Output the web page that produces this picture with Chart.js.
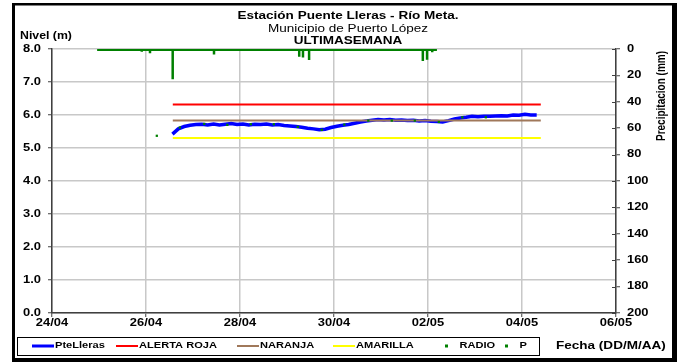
<!DOCTYPE html>
<html>
<head>
<meta charset="utf-8">
<title>Estación Puente Lleras - Río Meta</title>
<script src="https://cdn.jsdelivr.net/npm/chart.js@4.4.0/dist/chart.umd.min.js"></script>
<style>
  html, body { margin: 0; padding: 0; background: #fff; }
  #wrap { position: relative; width: 677px; height: 362px; }
</style>
</head>
<body>
<div id="wrap"><canvas id="chart" width="677" height="362"></canvas></div>
<script>
// ── Data (x = days since 24/04 00:00) ─────────────────────────────
var xTickLabels = ['24/04', '26/04', '28/04', '30/04', '02/05', '04/05', '06/05'];

// PteLleras level (m), one reading every 3 hours from 26/04 13:30
var nivelStart = 2.5625;
var nivelStep = 0.125;
var nivelValues = [
  5.42, 5.58, 5.65, 5.69, 5.71, 5.72, 5.70, 5.73, 5.70, 5.72,
  5.74, 5.71, 5.73, 5.70, 5.72, 5.71, 5.73, 5.70, 5.71, 5.68,
  5.67, 5.65, 5.63, 5.60, 5.58, 5.55, 5.57, 5.62, 5.66, 5.69,
  5.71, 5.75, 5.79, 5.82, 5.84, 5.86, 5.85, 5.86, 5.84, 5.85,
  5.83, 5.84, 5.82, 5.83, 5.81, 5.80, 5.79, 5.83, 5.88, 5.91,
  5.93, 5.96, 5.95, 5.96, 5.96, 5.97, 5.98, 5.97, 6.00, 5.99,
  6.02, 6.00, 6.00
];

// RADIO readings (m)
var radioDays = [2.23, 2.72, 3.24, 3.73, 4.23, 4.72, 5.23, 5.74, 6.22, 6.73, 7.23, 7.72, 8.23, 8.73, 9.23];
var radioValues = [5.37, 5.62, 5.73, 5.70, 5.72, 5.72, 5.64, 5.55, 5.71, 5.83, 5.83, 5.83, 5.79, 5.93, 5.93];

// Alert thresholds (m)
var alertaStart = 2.57;
var alertaEnd = 10.40;
var alertaRoja = 6.32;
var naranja = 5.83;
var amarilla = 5.30;

// Precipitation P (mm): dry baseline plus the rain events
var pStart = 0.96;
var pEnd = 8.19;
var pBase = 0.6;
var pDays = [1.91, 2.085, 2.568, 3.447, 4.70, 5.26, 5.34, 5.47, 6.40, 7.89, 7.98, 8.09];
var pValues = [2.0, 3.3, 23.0, 4.1, 1.5, 5.8, 6.4, 8.3, 1.5, 9.1, 8.1, 2.5];

// ── Styling helpers ───────────────────────────────────────────────
var FONT = '"Liberation Sans", Arial, sans-serif';
var SX = 1.23;          // reference text is horizontally stretched
var AXIS = '#404040';
var GRID = '#c8c8c8';

/** Draw text stretched horizontally, vertically centred on y */
function sText(ctx, txt, x, y, font, align) {
  ctx.save();
  ctx.font = font;
  ctx.fillStyle = '#000';
  ctx.textBaseline = 'middle';
  ctx.textAlign = 'left';
  var w = ctx.measureText(txt).width * SX;
  var left = align === 'center' ? x - w / 2 : (align === 'right' ? x - w : x);
  ctx.translate(left, y);
  ctx.scale(SX, 1);
  ctx.fillText(txt, 0, 0);
  ctx.restore();
}

// ── Build datasets from the arrays ────────────────────────────────
var nivelData = nivelValues.map(function (v, i) { return { x: nivelStart + i * nivelStep, y: v }; });
var radioData = radioDays.map(function (d, i) { return { x: d, y: radioValues[i] }; });
function umbral(v) { return [{ x: alertaStart, y: v }, { x: alertaEnd, y: v }]; }

var pData = [{ x: pStart, y: pBase }];
pDays.forEach(function (d, i) {
  pData.push({ x: d, y: pBase }, { x: d, y: pValues[i] }, { x: d, y: pBase });
});
pData.push({ x: pEnd, y: pBase });

var series = [
  { label: 'PteLleras', data: nivelData, borderColor: '#0000ff', borderWidth: 3.5, order: 6 },
  { label: 'ALERTA ROJA', data: umbral(alertaRoja), borderColor: '#ff0000', borderWidth: 2, order: 5 },
  { label: 'NARANJA', data: umbral(naranja), borderColor: '#a0785a', borderWidth: 2, order: 4 },
  { label: 'AMARILLA', data: umbral(amarilla), borderColor: '#ffff00', borderWidth: 2, order: 3 },
  { label: 'RADIO', data: radioData, showLine: false, pointStyle: 'rect', pointRadius: 1.6,
    backgroundColor: '#008000', borderColor: '#008000', borderWidth: 0, order: 2 },
  { label: 'P', data: pData, borderColor: '#008000', borderWidth: 2.5, yAxisID: 'y2', order: 1 }
];
series.forEach(function (s) {
  if (s.pointRadius === undefined) s.pointRadius = 0;
  if (!s.yAxisID) s.yAxisID = 'y';
  s.tension = 0;
  s.fill = false;
});

// Legend layout (marker start x) and kind
var legendItems = [
  { i: 0, x: 32, kind: 'line' },
  { i: 1, x: 116, kind: 'line' },
  { i: 2, x: 237, kind: 'line' },
  { i: 3, x: 333, kind: 'line' },
  { i: 4, x: 440, kind: 'dot' },
  { i: 5, x: 500, kind: 'dot' }
];

/** Titles, tick labels, legend and frame drawn on top of the chart */
var decor = {
  id: 'decor',
  beforeDraw: function (chart) {
    var ctx = chart.ctx;
    ctx.save();
    ctx.fillStyle = '#fff';
    ctx.fillRect(0, 0, chart.width, chart.height);
    ctx.restore();
  },
  afterDraw: function (chart) {
    var ctx = chart.ctx;
    var sx = chart.scales.x, sy = chart.scales.y, sy2 = chart.scales.y2;
    var tickFont = 'bold 10.5px ' + FONT;

    // Titles
    sText(ctx, 'Estación Puente Lleras - Río Meta.', 348, 16, 'bold 11px ' + FONT, 'center');
    sText(ctx, 'Municipio de Puerto López', 348, 28.5, '11px ' + FONT, 'center');
    sText(ctx, 'ULTIMASEMANA', 348, 40.5, 'bold 11px ' + FONT, 'center');
    sText(ctx, 'Nivel (m)', 20, 36, 'bold 10px ' + FONT, 'left');

    // Tick labels via the scales
    sx.ticks.forEach(function (t) {
      sText(ctx, xTickLabels[Math.round(t.value / 2)], sx.getPixelForValue(t.value), 323, tickFont, 'center');
    });
    sy.ticks.forEach(function (t) {
      sText(ctx, t.value.toFixed(1), 41, sy.getPixelForValue(t.value), tickFont, 'right');
    });
    sy2.ticks.forEach(function (t) {
      var py = sy2.getPixelForValue(t.value);
      sText(ctx, String(t.value), 627, py, tickFont, 'left');
      ctx.save();
      ctx.strokeStyle = AXIS;
      ctx.lineWidth = 1;
      ctx.beginPath();
      ctx.moveTo(sy2.left - 4, Math.round(py) + 0.5);
      ctx.lineTo(sy2.left, Math.round(py) + 0.5);
      ctx.stroke();
      ctx.restore();
    });

    // Right axis title
    ctx.save();
    ctx.translate(662, 96);
    ctx.rotate(-Math.PI / 2);
    ctx.scale(1, SX);
    ctx.font = 'bold 10px ' + FONT;
    ctx.fillStyle = '#000';
    ctx.textAlign = 'center';
    ctx.textBaseline = 'middle';
    ctx.fillText('Precipitacion (mm)', 0, 0);
    ctx.restore();

    // X axis title
    sText(ctx, 'Fecha (DD/M/AA)', 556, 346, 'bold 11px ' + FONT, 'left');

    // Legend
    ctx.save();
    ctx.strokeStyle = '#000';
    ctx.lineWidth = 1;
    ctx.strokeRect(17.5, 337.5, 522, 18);
    ctx.restore();
    legendItems.forEach(function (it) {
      var ds = chart.data.datasets[it.i];
      var ly = 346;
      ctx.save();
      if (it.kind === 'line') {
        ctx.strokeStyle = ds.borderColor;
        ctx.lineWidth = Math.min(ds.borderWidth, 3);
        ctx.beginPath();
        ctx.moveTo(it.x, ly);
        ctx.lineTo(it.x + 22, ly);
        ctx.stroke();
        ctx.restore();
        sText(ctx, ds.label, it.x + 23, ly, 'bold 9px ' + FONT, 'left');
      } else {
        ctx.fillStyle = '#008000';
        ctx.fillRect(it.x + 5, ly - 1.5, 3, 3);
        ctx.restore();
        sText(ctx, ds.label, it.x + 19.5, ly, 'bold 9px ' + FONT, 'left');
      }
    });

    // Outer frame
    ctx.save();
    ctx.fillStyle = '#000';
    ctx.fillRect(12, 3, 3, 359);
    ctx.fillRect(12, 3, 665, 2.5);
    ctx.fillRect(672, 3, 5, 359);
    ctx.fillRect(12, 358, 665, 4);
    ctx.restore();
  }
};

function axisGrid(extra) {
  var g = { color: GRID, lineWidth: 1.5, tickColor: AXIS, tickLength: 4, tickWidth: 1 };
  for (var k in extra) g[k] = extra[k];
  return g;
}

new Chart(document.getElementById('chart'), {
  type: 'line',
  data: { datasets: series },
  options: {
    responsive: false,
    animation: false,
    devicePixelRatio: 1,
    layout: { padding: { top: 49, left: 0, right: 0, bottom: 0 } },
    plugins: { legend: { display: false }, title: { display: false }, tooltip: { enabled: false } },
    scales: {
      x: {
        type: 'linear', min: 0, max: 12,
        ticks: { stepSize: 2, color: 'transparent', maxRotation: 0 },
        grid: axisGrid({}),
        border: { color: AXIS, width: 1.5 },
        afterFit: function (s) { s.height = 49; }
      },
      y: {
        position: 'left', min: 0, max: 8,
        ticks: { stepSize: 1, color: 'transparent' },
        grid: axisGrid({}),
        border: { color: AXIS, width: 1.5 },
        afterFit: function (s) { s.width = 52; }
      },
      y2: {
        position: 'right', min: 0, max: 200, reverse: true,
        ticks: { stepSize: 20, color: 'transparent' },
        grid: axisGrid({ drawOnChartArea: false }),
        border: { color: AXIS, width: 1.5 },
        afterFit: function (s) { s.width = 61; }
      }
    }
  },
  plugins: [decor]
});
</script>
</body>
</html>
